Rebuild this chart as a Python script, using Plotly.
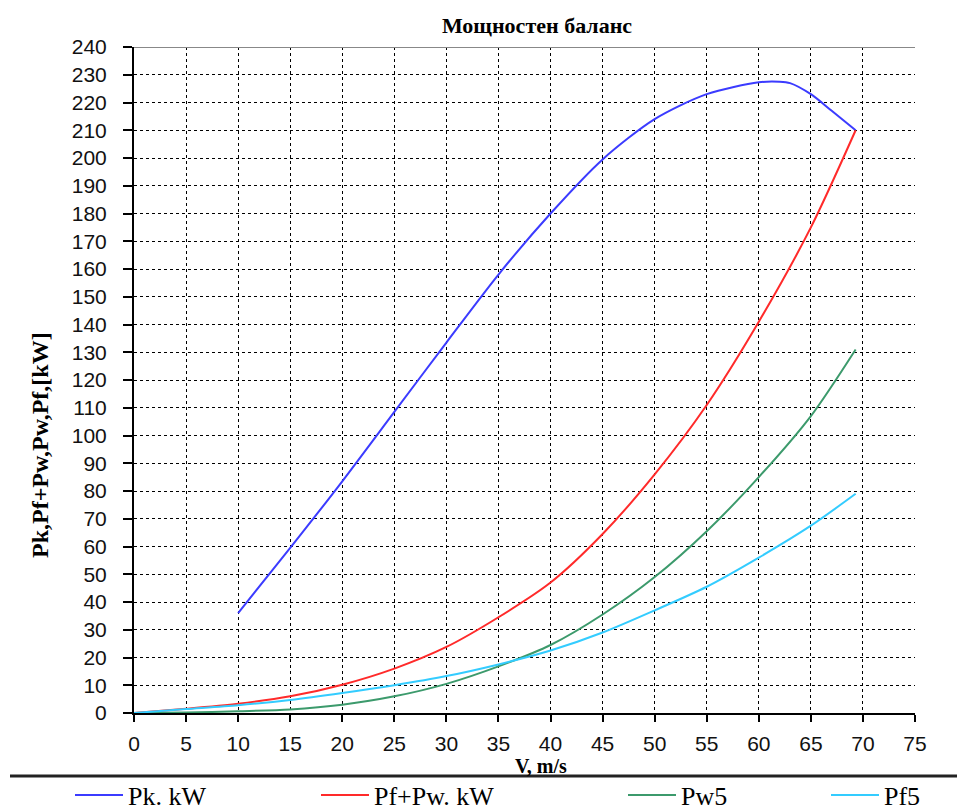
import plotly.graph_objects as go

# ---- data ----
v_pk = [10, 15, 20, 25, 30, 35, 40, 45, 50, 55, 60, 62, 63, 65, 67, 69.3]
pk = [36, 59.5, 83.5, 108.5, 133.5, 158, 180, 199.5, 214, 223, 227.3, 227.5, 227, 223, 217, 210]

v = [0, 5, 10, 15, 20, 25, 30, 35, 40, 45, 50, 55, 60, 65, 69.3]
pf_pw = [0, 1.5, 3.3, 6, 10.2, 16, 23.8, 34.5, 47, 64.5, 86, 111, 141, 175, 210]
pw5 = [0, 0.2, 0.6, 1.3, 3, 6, 10.5, 16.8, 24.5, 35.5, 49, 65.5, 85, 107, 131]
pf5 = [0, 1.4, 2.8, 4.7, 7.2, 10, 13.3, 17.5, 22.5, 29, 37, 45.5, 56, 67.5, 79]

x_ticks = list(range(0, 80, 5))
y_ticks = list(range(0, 250, 10))

names = ["Pk. kW", "Pf+Pw. kW", "Pw5", "Pf5"]
colors = ["#3b3bff", "#ff2a2a", "#3c9a6c", "#33ccff"]

OFF = 8                      # page body margin
W, H = 965 - OFF, 811 - OFF  # figure size
PL, PR, PT, PB = 134 - OFF, 915 - OFF, 47 - OFF, 713 - OFF  # plot area in figure px
PW, PH = PR - PL, PB - PT


def px_x(x):  # reference page px -> paper coords
    return (x - OFF - PL) / PW


def px_y(y):
    return (PB - (y - OFF)) / PH


fig = go.Figure()
series = [(v_pk, pk), (v, pf_pw), (v, pw5), (v, pf5)]
legends = ["legend", "legend2", "legend3", "legend4"]
for (xs, ys), nm, col, lg in zip(series, names, colors, legends):
    fig.add_trace(go.Scatter(
        x=xs, y=ys, mode="lines", name=nm,
        line=dict(color=col, width=2, shape="spline", smoothing=0.8),
        legend=lg,
    ))

axis_common = dict(
    showline=True, linecolor="black", linewidth=2,
    ticks="outside", tickcolor="black", tickwidth=2,
    showgrid=True, gridcolor="black", griddash="dot", gridwidth=1,
    zeroline=False,
    tickfont=dict(family="Liberation Sans", size=21, color="#111"),
)

fig.update_xaxes(range=[0, 75], tickvals=x_ticks, ticklen=7,
                 ticklabelstandoff=4, **axis_common)
fig.update_yaxes(range=[0, 240], tickvals=y_ticks, ticklen=9,
                 ticklabelstandoff=12, **axis_common)

# legend positions (reference page pixels)
leg_x = [70, 316, 623, 826]
leg_font = dict(family="Liberation Serif", size=26, color="black")
leg_cfg = {}
for lg, lx in zip(legends, leg_x):
    leg_cfg[lg] = dict(
        x=(lx - OFF) / W, y=1 - (795 - OFF) / H, xref="container", yref="container",
        xanchor="left", yanchor="middle", orientation="h",
        font=leg_font, bgcolor="rgba(0,0,0,0)", itemwidth=48,
    )

fig.update_layout(
    width=W, height=H,
    margin=dict(l=PL, r=W - PR, t=PT, b=H - PB),
    paper_bgcolor="white", plot_bgcolor="white",
    title=dict(text="<b>Мощностен баланс</b>", x=(537 - OFF) / W, xanchor="center",
               y=1 - (25 - OFF) / H, yanchor="middle",
               font=dict(family="Liberation Serif", size=22, color="black")),
    showlegend=True,
    **leg_cfg,
)

# top border (gray)
fig.add_shape(type="line", xref="x", yref="y", x0=0, x1=75, y0=240, y1=240,
              line=dict(color="#888", width=2))
# separator line above legend
fig.add_shape(type="line", xref="paper", yref="paper",
              x0=px_x(10), x1=px_x(958), y0=px_y(776), y1=px_y(776),
              line=dict(color="#222", width=3))

fig.add_annotation(text="<b>Pk,Pf+Pw,Pw,Pf,[kW]</b>", textangle=-90,
                   xref="paper", yref="paper",
                   x=px_x(40), y=px_y(445),
                   xanchor="center", yanchor="middle", showarrow=False,
                   font=dict(family="Liberation Serif", size=24, color="black"))
fig.add_annotation(text="<b>V, m/s</b>",
                   xref="paper", yref="paper",
                   x=px_x(541), y=px_y(766),
                   xanchor="center", yanchor="middle", showarrow=False,
                   font=dict(family="Liberation Serif", size=20, color="black"))

fig.write_html("out.html")
